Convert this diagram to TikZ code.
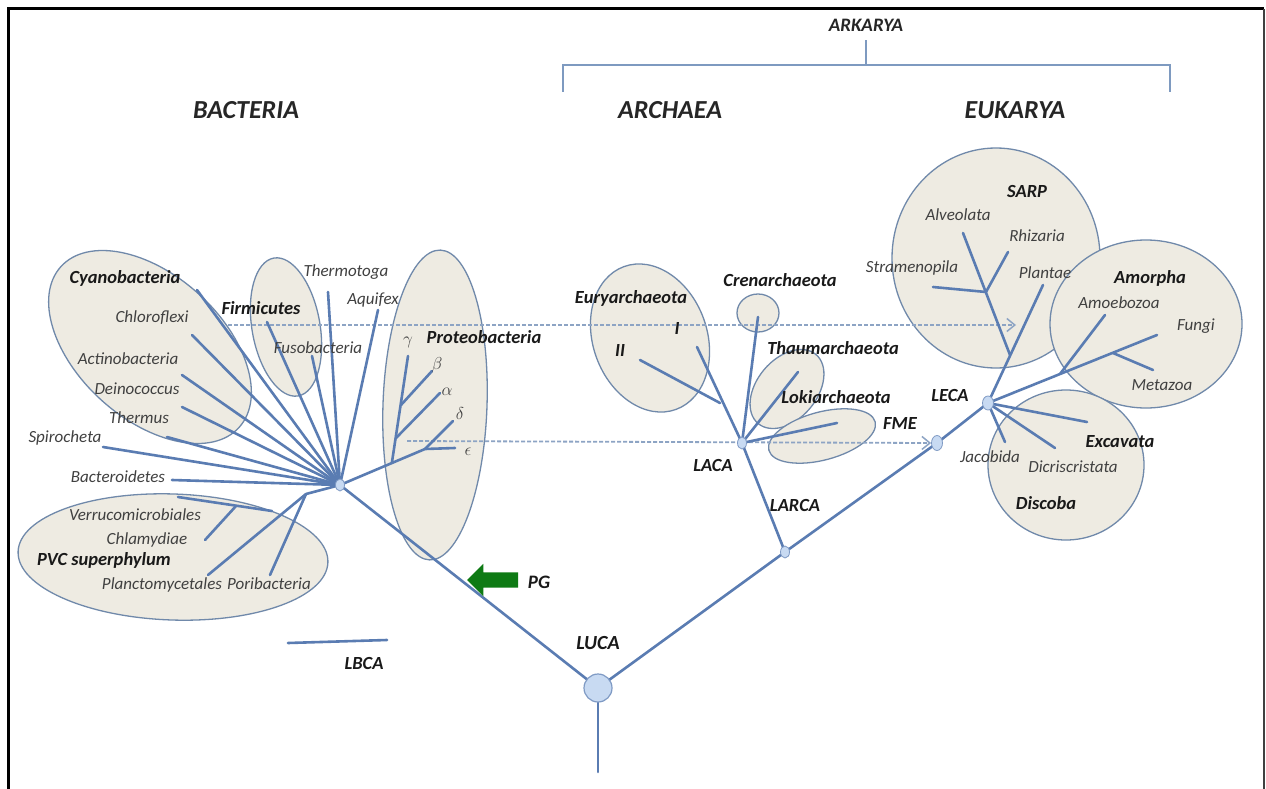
\documentclass[tikz,border=0pt]{standalone}
\usepackage{fontspec}
\setmainfont{Carlito}
\usetikzlibrary{arrows.meta,shapes.geometric,shapes.arrows}
\definecolor{br}{HTML}{5A7CB2}
\definecolor{ellf}{HTML}{EEEBE2}
\definecolor{elld}{HTML}{7089AA}
\definecolor{nodef}{HTML}{C8DAF2}
\definecolor{noded}{HTML}{7F9AC4}
\definecolor{dashc}{HTML}{8DA4C4}
\definecolor{pgc}{HTML}{0E7A14}
\definecolor{brk}{HTML}{7E9AC0}
\pgfdeclarelayer{bg}\pgfdeclarelayer{fg}\pgfsetlayers{bg,main,fg}
\tikzset{
  branch/.style={draw=br, line width=2.6pt, line cap=round},
  clade/.style={ellipse, draw=elld, fill=ellf, line width=1.3pt, inner sep=0},
  lab/.style={font=\fontsize{17}{19}\selectfont\itshape, text=black!75, inner sep=0},
  blab/.style={font=\fontsize{18.5}{20}\selectfont\bfseries\itshape, text=black!90, inner sep=0},
  head/.style={font=\fontsize{26}{28}\selectfont\bfseries\itshape, text=black!85, inner sep=0},
  hubn/.style={ellipse, draw=noded, fill=nodef, line width=0.8pt, minimum width=9pt, minimum height=12pt, inner sep=0},
  bignode/.style={circle, draw=noded, fill=nodef, line width=1.2pt, minimum size=28pt, inner sep=0},
  dashln/.style={draw=dashc, line width=1.8pt, dash pattern=on 4pt off 2pt, -{Straight Barb[length=8pt,width=13pt,line width=1.5pt]}},
  bracket/.style={draw=brk, line width=1.5pt},
  pgarrow/.style={single arrow, shape border rotate=180, fill=pgc, minimum height=51pt, minimum width=32pt, inner sep=7.5pt, single arrow head extend=8.5pt, single arrow tip angle=90},
  greek/.style={font=\fontsize{16}{18}\selectfont, text=black!75, inner sep=0},
}
\begin{document}
\begin{tikzpicture}[x=1pt,y=-1pt]
\useasboundingbox (0,0) rectangle (1266,789);
\begin{pgfonlayer}{bg}
\fill[white] (0,0) rectangle (1266,789);
\end{pgfonlayer}
% frame
\draw[line width=3pt] (8,789) -- (8,9) -- (1264,9);
\draw[line width=2pt, black!75] (1264,9) -- (1264,789);

% headings
\node[head] (bact) at (246,110) {BACTERIA};
\node[head] (arch) at (670,110) {ARCHAEA};
\node[head] (euk) at (1015,110) {EUKARYA};
\node[font=\fontsize{19}{21}\selectfont\bfseries\itshape, text=black!85, inner sep=0] (ark) at (866,25) {ARKARYA};
\coordinate (brL) at (563,92); \coordinate (brLt) at (563,65);
\coordinate (brR) at (1170,92); \coordinate (brRt) at (1170,65);
\coordinate (brM) at (866,65); \coordinate (brTop) at (866,40);
\draw[bracket] (brL) -- (brLt) -- (brRt) -- (brR);
\draw[bracket] (brM) -- (brTop);

% clades (background)
\begin{pgfonlayer}{bg}
\node[clade, minimum width=240pt, minimum height=144pt, rotate=-42] (cyano) at (150,347) {};
\node[clade, minimum width=68pt, minimum height=140pt, rotate=10] (firm) at (286,327) {};
\node[clade, minimum width=104pt, minimum height=310pt, rotate=-2] (proteo) at (435,405) {};
\node[clade, minimum width=310pt, minimum height=126pt, rotate=-2] (pvc) at (173,557) {};
\node[clade, minimum width=114pt, minimum height=152pt, rotate=20] (eury) at (650,338) {};
\node[clade, minimum width=42pt, minimum height=38pt] (cren) at (758,313) {};
\node[clade, minimum width=90pt, minimum height=60pt, rotate=50] (thaum) at (787,389) {};
\node[clade, minimum width=110pt, minimum height=48pt, rotate=15] (loki) at (822,436) {};
\node[clade, minimum width=208pt, minimum height=220pt] (sarp) at (996,258) {};
\node[clade, minimum width=192pt, minimum height=168pt] (amor) at (1146,324) {};
\node[clade, minimum width=156pt, minimum height=150pt] (disc) at (1066,465) {};
\end{pgfonlayer}

% hub nodes (foreground)
\begin{pgfonlayer}{fg}
\node[bignode] (luca) at (598,688) {};
\node[hubn] (bhub) at (340,485) {};
\node[hubn] (larca) at (785,552) {};
\node[hubn] (laca) at (742,443) {};
\node[hubn, minimum width=11pt, minimum height=15pt] (fme) at (937,443) {};
\node[hubn, minimum width=11pt, minimum height=14pt] (leca) at (988,403) {};
\end{pgfonlayer}

% dashed transfer arrows
\coordinate (d1s) at (228,325); \coordinate (d1e) at (1016,325);
\coordinate (d2s) at (407,441);
\draw[dashln] (d1s) -- (d1e);
\draw[dashln] (d2s) -- (fme.west);

% main tree
\coordinate (root) at (598,772);
\draw[branch] (luca.center) -- (root);
\draw[branch] (luca.center) -- (bhub.center);
\draw[branch] (luca.center) -- (larca.center) -- (fme.center) -- (leca.center);
\draw[branch] (larca.center) -- (laca.center);

% bacteria leaves
\coordinate (cyanoE) at (197,290);
\coordinate (chloroE) at (192,335);
\coordinate (actinoE) at (182,375);
\coordinate (deinoE) at (182,407);
\coordinate (thermusE) at (167,437);
\coordinate (spiroE) at (103,447);
\coordinate (bacteroE) at (172,480);
\coordinate (firmE) at (267,322);
\coordinate (fusoE) at (312,356);
\coordinate (thermotE) at (328,292);
\coordinate (aquifE) at (378,310);
\foreach \e in {cyanoE,chloroE,actinoE,deinoE,thermusE,spiroE,bacteroE,firmE,fusoE,thermotE,aquifE}
  \draw[branch] (bhub.center) -- (\e);

% proteobacteria subtree
\coordinate (epsJ) at (425,449); \coordinate (epsE) at (455,448);
\coordinate (gJ) at (392,462); \coordinate (gammaE) at (408,356);
\coordinate (bJ) at (401,405); \coordinate (betaE) at (432,371);
\coordinate (aJ) at (396,438); \coordinate (alphaE) at (440,393);
\coordinate (deltaE) at (453,421);
\draw[branch] (bhub.center) -- (epsJ) -- (epsE);
\draw[branch] (gJ) -- (gammaE);
\draw[branch] (bJ) -- (betaE);
\draw[branch] (aJ) -- (alphaE);
\draw[branch] (epsJ) -- (deltaE);

% PVC subtree
\coordinate (pvc0) at (306,494);
\coordinate (verrE) at (178,497); \coordinate (verrJ) at (272,511);
\coordinate (chlaJ) at (236,506); \coordinate (chlaE) at (205,540);
\coordinate (planE) at (208,575); \coordinate (poriE) at (270,575);
\draw[branch] (bhub.center) -- (pvc0);
\draw[branch] (pvc0) -- (planE);
\draw[branch] (pvc0) -- (poriE);
\draw[branch] (verrE) -- (verrJ);
\draw[branch] (chlaJ) -- (chlaE);

% LBCA scale line
\coordinate (lbcaA) at (288,643); \coordinate (lbcaB) at (387,640);
\draw[branch] (lbcaA) -- (lbcaB);

% archaea subtree
\coordinate (euryJ) at (720,403);
\coordinate (euryIE) at (697,347); \coordinate (euryIIE) at (640,360);
\coordinate (crenE) at (758,317); \coordinate (thaumE) at (798,372); \coordinate (lokiE) at (837,423);
\draw[branch] (laca.center) -- (euryIE);
\draw[branch] (euryJ) -- (euryIIE);
\draw[branch] (laca.center) -- (crenE);
\draw[branch] (laca.center) -- (thaumE);
\draw[branch] (laca.center) -- (lokiE);

% eukarya subtree
\coordinate (plantE) at (1043,285); \coordinate (sarpJ) at (1010,355);
\coordinate (alveoE) at (963,233); \coordinate (sarpJ2) at (986,292);
\coordinate (rhizE) at (1008,252); \coordinate (stramE) at (933,287);
\coordinate (fungiE) at (1157,335); \coordinate (amJ) at (1060,374);
\coordinate (amoebE) at (1105,315); \coordinate (metJ) at (1113,353); \coordinate (metaE) at (1153,370);
\coordinate (excE) at (1087,422); \coordinate (dicrE) at (1055,448); \coordinate (jacoE) at (1005,442);
\draw[branch] (leca.center) -- (plantE);
\draw[branch] (sarpJ) -- (alveoE);
\draw[branch] (sarpJ2) -- (rhizE);
\draw[branch] (sarpJ2) -- (stramE);
\draw[branch] (leca.center) -- (fungiE);
\draw[branch] (amJ) -- (amoebE);
\draw[branch] (metJ) -- (metaE);
\draw[branch] (leca.center) -- (excE);
\draw[branch] (leca.center) -- (dicrE);
\draw[branch] (leca.center) -- (jacoE);

% PG arrow
\node[pgarrow] (pg) at (496.5,580) {};
\node[blab, font=\fontsize{19}{21}\selectfont\bfseries\itshape] (pgl) at (539,582) {PG};

% labels - bacteria
\node[blab] (lcyano) at (125,278) {Cyanobacteria};
\node[lab] (lchloro) at (152,318) {Chloroflexi};
\node[lab] (lactino) at (128,359) {Actinobacteria};
\node[lab] (ldeino) at (137,389) {Deinococcus};
\node[lab] (lthermus) at (139,418) {Thermus};
\node[lab] (lspiro) at (65,438) {Spirocheta};
\node[lab] (lbactero) at (118,477) {Bacteroidetes};
\node[blab] (lfirm) at (261,308) {Firmicutes};
\node[lab] (lfuso) at (318,348) {Fusobacteria};
\node[lab] (lthermot) at (346,272) {Thermotoga};
\node[lab] (laquif) at (373,300) {Aquifex};
\node[blab] (lproteo) at (484,337) {Proteobacteria};
\node[greek] (lg) at (408,342) {$\gamma$};
\node[greek] (lb) at (437,365) {$\beta$};
\node[greek] (la) at (447,392) {$\alpha$};
\node[greek] (ld) at (460,413) {$\delta$};
\node[greek] (le) at (468,452) {$\epsilon$};
\node[lab] (lverr) at (135,515) {Verrucomicrobiales};
\node[lab] (lchla) at (147,540) {Chlamydiae};
\node[blab] (lpvc) at (104,560) {PVC superphylum};
\node[lab] (lplan) at (162,585) {Planctomycetales};
\node[lab] (lpori) at (269,584) {Poribacteria};
\node[blab] (llbca) at (364,663) {LBCA};
\node[blab, font=\fontsize{20}{22}\selectfont\bfseries\itshape] (lluca) at (598,643) {LUCA};

% labels - archaea
\node[blab] (leury) at (631,298) {Euryarchaeota};
\node[blab] (lI) at (677,328) {I};
\node[blab] (lII) at (620,350) {II};
\node[blab] (lcren) at (780,280) {Crenarchaeota};
\node[blab] (lthaum) at (833,348) {Thaumarchaeota};
\node[blab] (lloki) at (836,397) {Lokiarchaeota};
\node[blab] (llaca) at (713,465) {LACA};
\node[blab] (llarca) at (795,505) {LARCA};
\node[blab] (lfme) at (900,423) {FME};

% labels - eukarya
\node[blab] (lsarp) at (1027,192) {SARP};
\node[lab] (lalveo) at (958,215) {Alveolata};
\node[lab] (lrhiz) at (1037,236) {Rhizaria};
\node[lab] (lstram) at (912,268) {Stramenopila};
\node[lab] (lplant) at (1045,273) {Plantae};
\node[blab] (lamor) at (1150,278) {Amorpha};
\node[lab] (lamoeb) at (1119,303) {Amoebozoa};
\node[lab] (lfungi) at (1196,326) {Fungi};
\node[lab] (lmeta) at (1162,385) {Metazoa};
\node[blab] (lleca) at (950,395) {LECA};
\node[lab] (ljaco) at (990,457) {Jacobida};
\node[lab] (ldicr) at (1073,467) {Dicriscristata};
\node[blab] (lexc) at (1120,442) {Excavata};
\node[blab] (ldisc) at (1046,503) {Discoba};
\end{tikzpicture}
\end{document}
